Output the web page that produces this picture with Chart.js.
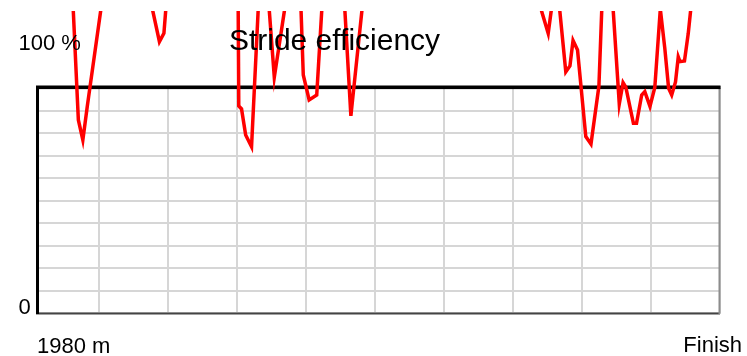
<!DOCTYPE html>
<html>
<head>
<meta charset="utf-8">
<script src="https://cdn.jsdelivr.net/npm/chart.js@4/dist/chart.umd.min.js"></script>
<style>
  html, body { margin: 0; padding: 0; background: #ffffff; }
  #wrap { width: 747px; height: 356px; position: relative; }
</style>
</head>
<body>
<div id="wrap"><canvas id="c" width="747" height="356"></canvas></div>
<script>
// Distance along the course (m) and stride efficiency (%) at each sample
const distances = [
  1980.23, 1981.16, 1981.40, 1981.53, 1981.66, 1982.20, 1982.84, 1983.42, 1983.75, 1983.88,
  1984.00, 1984.64, 1985.36, 1986.02, 1986.05, 1986.13, 1986.25, 1986.42, 1986.69, 1986.84,
  1987.08, 1987.48, 1987.80, 1987.92, 1988.09, 1988.31, 1988.55, 1989.04, 1989.30, 1989.74,
  1990.72, 1991.88, 1993.04, 1994.06, 1994.69, 1995.02, 1995.19, 1995.27, 1995.53, 1995.65,
  1995.74, 1995.87, 1996.11, 1996.26, 1996.49, 1996.61, 1996.81, 1997.08, 1997.19, 1997.27,
  1997.49, 1997.58, 1997.73, 1997.82, 1997.97, 1998.11, 1998.27, 1998.40, 1998.51, 1998.60,
  1998.71, 1998.79, 1998.84, 1998.97, 1999.08, 1999.24, 1999.65, 2000.00
];
const efficiency = [
  148, 165, 85.8, 76.9, 92.0, 151, 165, 144, 120.6, 124.3,
  147.6, 170, 161, 168.8, 92.0, 90.7, 79.1, 73.9, 159.1, 153.7,
  104.8, 145.1, 158.9, 105.8, 94.7, 96.9, 158.8, 157.6, 87.6, 152.0,
  165.8, 156.9, 170.2, 159.1, 141.3, 124.3, 143.8, 147.7, 107.2, 109.8,
  121.1, 116.9, 78.4, 75.1, 100.9, 150.2, 156.9, 92.9, 102.4, 100.4,
  84.3, 84.3, 96.9, 98.4, 91.8, 100.2, 135.1, 117.6, 99.9, 96.9,
  102.7, 113.8, 111.7, 112.0, 124.3, 147.9, 161.3, 152.4
];

// Vertical grid marks every 2 m up to the finish line
const xGridMarks = [1982, 1984, 1986, 1988, 1990, 1992, 1994, 1996, 1998, 2000];
const xStart = 1980.23;
const xEnd = 2000;

const titleText = 'Stride efficiency';
const yTopLabel = '100 %';
const yBottomLabel = '0';
const xStartLabel = '1980 m';
const xEndLabel = 'Finish';

const FONT = "'Liberation Sans', Arial, Helvetica, sans-serif";

// Frame around the plot area, drawn beneath the trace
const framePlugin = {
  id: 'frame',
  beforeDatasetsDraw(chart) {
    const { ctx, chartArea: a } = chart;
    ctx.save();
    // bottom edge
    ctx.fillStyle = '#444444';
    ctx.fillRect(a.left - 2, a.bottom - 0.5, a.right - a.left + 2, 2);
    // right edge
    ctx.fillStyle = '#8c8c8c';
    ctx.fillRect(a.right - 1.5, a.top - 2, 2, a.bottom - a.top + 3);
    // top edge
    ctx.fillStyle = '#000000';
    ctx.fillRect(a.left - 2, a.top - 2.5, a.right - a.left + 2.5, 3.6);
    // left edge
    ctx.fillRect(a.left - 2, a.top - 2, 3, a.bottom - a.top + 3);
    ctx.restore();
  }
};

// Title and axis end labels
const labelsPlugin = {
  id: 'labels',
  afterDraw(chart) {
    const { ctx, chartArea: a } = chart;
    ctx.save();
    ctx.fillStyle = '#000000';
    ctx.textBaseline = 'alphabetic';

    ctx.font = '30px ' + FONT;
    ctx.textAlign = 'center';
    ctx.fillText(titleText, 334.5, 50);

    ctx.font = '22px ' + FONT;
    ctx.textAlign = 'left';
    ctx.fillText(yTopLabel, 18.5, 50);
    ctx.fillText(yBottomLabel, 18.5, 314);
    ctx.fillText(xStartLabel, a.left - 1, 352.5);

    ctx.textAlign = 'right';
    ctx.fillText(xEndLabel, 742, 351.5);
    ctx.restore();
  }
};

new Chart(document.getElementById('c'), {
  type: 'line',
  data: {
    datasets: [{
      data: distances.map((d, i) => ({ x: d, y: efficiency[i] })),
      borderColor: '#ff0000',
      borderWidth: 3.5,
      pointRadius: 0,
      tension: 0,
      fill: false,
      clip: { left: 2, top: 77, right: 2, bottom: 2 }
    }]
  },
  options: {
    responsive: false,
    animation: false,
    layout: { padding: { left: 38, top: 88, right: 27, bottom: 43 } },
    plugins: {
      legend: { display: false },
      tooltip: { enabled: false },
      title: { display: false }
    },
    scales: {
      x: {
        type: 'linear',
        min: xStart,
        max: xEnd,
        afterBuildTicks(scale) {
          scale.ticks = xGridMarks.map(v => ({ value: v }));
        },
        ticks: { display: false, padding: 0 },
        grid: { color: '#d6d6d6', lineWidth: 2, drawTicks: false },
        border: { display: false }
      },
      y: {
        type: 'linear',
        min: 0,
        max: 100,
        ticks: { display: false, stepSize: 10, padding: 0 },
        grid: { color: '#d6d6d6', lineWidth: 2, drawTicks: false },
        border: { display: false }
      }
    }
  },
  plugins: [framePlugin, labelsPlugin]
});
</script>
</body>
</html>
